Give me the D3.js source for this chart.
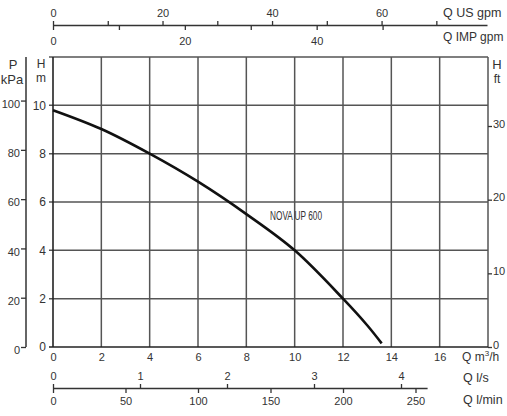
<!DOCTYPE html>
<html>
<head>
<meta charset="UTF-8">
<style>
body { margin: 0; background: #fff; }
text { font-family: "Liberation Sans", Arial, sans-serif; fill: #333; }
.axis path, .axis line { stroke: #333; }
</style>
</head>
<body>
<script src="https://d3js.org/d3.v7.min.js"></script>
<div id="chart"></div>
<script>
// pump curve (Q in m3/h, H in m)
const flowQ = [0, 2, 4, 6, 8, 10, 12, 13, 13.6];
const headH = [9.8, 9.02, 8.0, 6.84, 5.5, 4.0, 2.0, 0.9, 0.15];
const curveName = "NOVA UP 600";

// tick values
const qTicks = [0, 2, 4, 6, 8, 10, 12, 14, 16];
const hTicks = [0, 2, 4, 6, 8, 10];
const kpaTicks = [0, 20, 40, 60, 80, 100];
const ftTicks = [0, 10, 20, 30];
const usTicks = [0, 10, 20, 30, 40, 50, 60, 70];
const usLabels = [0, 20, 40, 60];
const impTicks = [0, 10, 20, 30, 40, 50];
const impLabels = [0, 20, 40];
const lsTicks = [0, 1, 2, 3, 4];
const lminTicks = [0, 50, 100, 150, 200, 250];

const W = 507, H = 416;
const svg = d3.select("#chart").append("svg")
    .attr("width", W).attr("height", H);

// main scales
const x = d3.scaleLinear().domain([0, 18]).range([53, 488]);
const y = d3.scaleLinear().domain([0, 12]).range([347, 57]);

// converted scales
const yKpa = d3.scaleLinear().domain([0, 12 * 9.80665]).range(y.range());
const yFt = d3.scaleLinear().domain([0, 12 / 0.3048]).range(y.range());
const xUS = d3.scaleLinear().domain([0, 18 * 4.40287]).range([x(0), x(18) - 1]);
const xImp = d3.scaleLinear().domain([0, 18 * 3.66615]).range([x(0), x(18)]);
const lsMax = 4.3;
const xLs = d3.scaleLinear().domain([0, lsMax]).range([x(0), x(lsMax * 3.6)]);
const xLmin = d3.scaleLinear().domain([0, lsMax * 60]).range(xLs.range());

// grid
const grid = svg.append("g").attr("stroke", "#555").attr("stroke-width", 1.5);
grid.selectAll(".gx").data(qTicks.slice(1).concat([18])).enter().append("line")
    .attr("x1", d => x(d)).attr("x2", d => x(d))
    .attr("y1", y(0)).attr("y2", y(12));
grid.selectAll(".gy").data(hTicks.slice(1).concat([12])).enter().append("line")
    .attr("x1", x(0) - 4).attr("x2", x(18))
    .attr("y1", d => y(d)).attr("y2", d => y(d));

// plot frame left + bottom
svg.append("line").attr("x1", x(0)).attr("x2", x(0)).attr("y1", y(0)).attr("y2", y(12))
    .attr("stroke", "#222").attr("stroke-width", 1.6);
svg.append("line").attr("x1", x(0) - 4).attr("x2", x(18)).attr("y1", y(0)).attr("y2", y(0))
    .attr("stroke", "#222").attr("stroke-width", 1.6);

function styleAxis(g, fs) {
    g.attr("class", "axis");
    g.selectAll("text").style("font-size", fs + "px").attr("fill", "#333");
    g.selectAll("line").attr("stroke-width", 1.3);
    g.select(".domain").attr("stroke-width", 1.5);
}

// bottom Q m3/h labels
svg.append("g").attr("transform", `translate(0,${y(0)})`)
    .call(d3.axisBottom(x).tickValues(qTicks).tickSize(0).tickPadding(6).tickFormat(d3.format("d")))
    .call(g => g.select(".domain").remove())
    .call(g => styleAxis(g, 11));

// left H m labels
svg.append("g").attr("transform", `translate(${x(0)},0)`)
    .call(d3.axisLeft(y).tickValues(hTicks).tickSize(0).tickPadding(7))
    .call(g => g.select(".domain").remove())
    .call(g => styleAxis(g, 12));

// P kPa axis
svg.append("g").attr("transform", "translate(26,0)")
    .call(d3.axisLeft(yKpa).tickValues(kpaTicks).tickSize(5).tickSizeOuter(0).tickPadding(1))
    .call(g => g.select(".domain").attr("d", `M0,${y(0)}V${y(12)}`))
    .call(g => styleAxis(g, 11))
    .call(g => g.selectAll("text").attr("dy", "0.6em"));

// H ft axis
svg.append("g").attr("transform", `translate(${x(18)},0)`)
    .call(d3.axisRight(yFt).tickValues(ftTicks).tickSize(4).tickPadding(1))
    .call(g => g.select(".domain").remove())
    .call(g => styleAxis(g, 11))
    .call(g => g.selectAll("text").attr("dy", "0.1em"));

// top: US gpm (above) and IMP gpm (below) on one line
const topY = 25;
svg.append("g").attr("transform", `translate(0,${topY})`)
    .call(d3.axisTop(xUS).tickValues(usTicks).tickSize(4).tickSizeOuter(0).tickPadding(4)
        .tickFormat(d => usLabels.includes(d) ? d : ""))
    .call(g => styleAxis(g, 11));
svg.append("g").attr("transform", `translate(0,${topY})`)
    .call(d3.axisBottom(xImp).tickValues(impTicks).tickSize(5).tickPadding(7)
        .tickFormat(d => impLabels.includes(d) ? d : ""))
    .call(g => g.select(".domain").remove())
    .call(g => styleAxis(g, 11));

// bottom: l/s (above) and l/min (below) on one line
const botY = 388;
svg.append("g").attr("transform", `translate(0,${botY})`)
    .call(d3.axisTop(xLs).tickValues(lsTicks).tickSize(4).tickSizeOuter(0).tickPadding(4)
        .tickFormat(d3.format("d")))
    .call(g => styleAxis(g, 11));
svg.append("g").attr("transform", `translate(0,${botY})`)
    .call(d3.axisBottom(xLmin).tickValues(lminTicks).tickSize(5).tickPadding(4)
        .tickFormat(d3.format("d")))
    .call(g => g.select(".domain").remove())
    .call(g => styleAxis(g, 11));

// unit titles
const titles = [
    { t: "Q US gpm", x: 443, y: 17, a: "start", s: 12.5 },
    { t: "Q IMP gpm", x: 443, y: 41, a: "start", s: 12 },
    { t: "Q l/s", x: 463, y: 382, a: "start", s: 12.5 },
    { t: "Q l/min", x: 463, y: 404, a: "start", s: 12.5 },
    { t: "P", x: 13, y: 69, a: "middle", s: 13 },
    { t: "kPa", x: 12, y: 84, a: "middle", s: 13 },
    { t: "H", x: 41, y: 68, a: "middle", s: 12 },
    { t: "m", x: 41, y: 82, a: "middle", s: 12 },
    { t: "H", x: 497, y: 69, a: "middle", s: 13 },
    { t: "ft", x: 497, y: 83, a: "middle", s: 12 }
];
svg.selectAll(".ttl").data(titles).enter().append("text")
    .attr("x", d => d.x).attr("y", d => d.y)
    .attr("text-anchor", d => d.a)
    .style("font-size", d => d.s + "px")
    .text(d => d.t);

const qm = svg.append("text").attr("x", 462).attr("y", 361).style("font-size", "12px");
qm.append("tspan").text("Q m");
qm.append("tspan").attr("dy", -5).style("font-size", "8px").text("3");
qm.append("tspan").attr("dy", 5).text("/h");

// curve
const pts = flowQ.map((q, i) => [q, headH[i]]);
const line = d3.line().x(d => x(d[0])).y(d => y(d[1])).curve(d3.curveCatmullRom);
svg.append("path").datum(pts)
    .attr("d", line)
    .attr("fill", "none")
    .attr("stroke", "#111")
    .attr("stroke-width", 2.6);

svg.append("text")
    .attr("x", 270).attr("y", 220)
    .attr("textLength", 52)
    .attr("lengthAdjust", "spacingAndGlyphs")
    .style("font-size", "13px")
    .attr("fill", "#222")
    .text(curveName);
</script>
</body>
</html>
